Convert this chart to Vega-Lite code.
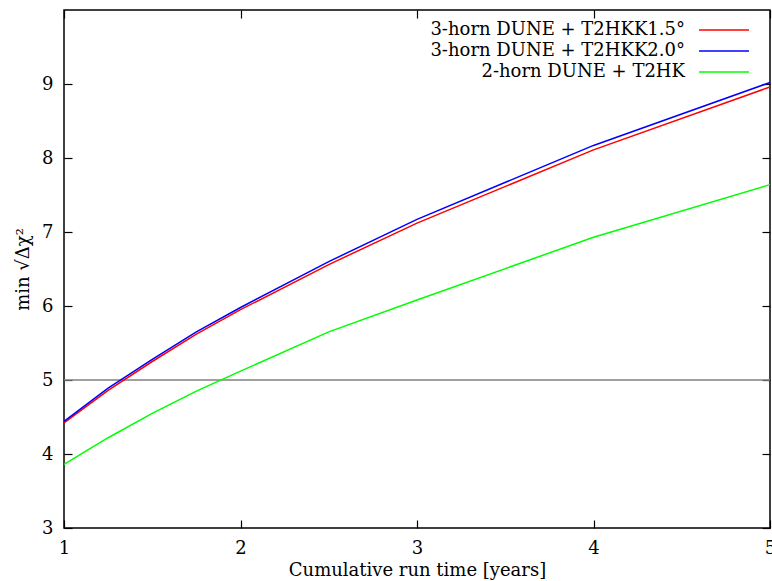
{
  "$schema": "https://vega.github.io/schema/vega-lite/v6.json",
  "width": 706,
  "height": 518,
  "autosize": "none",
  "padding": {"left": 64, "top": 10, "right": 2, "bottom": 53},
  "background": "white",
  "config": {
    "font": "DejaVu Serif",
    "view": {"stroke": "black", "strokeWidth": 1.5},
    "axis": {
      "grid": false,
      "domain": false,
      "tickColor": "black",
      "tickSize": -8,
      "tickWidth": 1.2,
      "labelFont": "DejaVu Serif",
      "labelFontSize": 18,
      "labelColor": "black",
      "titleFont": "DejaVu Serif",
      "titleFontSize": 18,
      "titleFontWeight": "normal",
      "titleColor": "black"
    },
    "legend": {
      "labelFont": "DejaVu Serif",
      "labelFontSize": 18,
      "labelColor": "black",
      "labelLimit": 500
    }
  },
  "resolve": {"axis": {"x": "independent", "y": "independent"}},
  "datasets": {
    "curves": [
      {"years": 1, "chi": 4.42, "setup": "3-horn DUNE + T2HKK1.5°"},
      {"years": 1.25, "chi": 4.86, "setup": "3-horn DUNE + T2HKK1.5°"},
      {"years": 1.5, "chi": 5.25, "setup": "3-horn DUNE + T2HKK1.5°"},
      {"years": 1.75, "chi": 5.62, "setup": "3-horn DUNE + T2HKK1.5°"},
      {"years": 2, "chi": 5.95, "setup": "3-horn DUNE + T2HKK1.5°"},
      {"years": 2.5, "chi": 6.56, "setup": "3-horn DUNE + T2HKK1.5°"},
      {"years": 3, "chi": 7.12, "setup": "3-horn DUNE + T2HKK1.5°"},
      {"years": 4, "chi": 8.11, "setup": "3-horn DUNE + T2HKK1.5°"},
      {"years": 5, "chi": 8.96, "setup": "3-horn DUNE + T2HKK1.5°"},
      {"years": 1, "chi": 4.44, "setup": "3-horn DUNE + T2HKK2.0°"},
      {"years": 1.25, "chi": 4.89, "setup": "3-horn DUNE + T2HKK2.0°"},
      {"years": 1.5, "chi": 5.28, "setup": "3-horn DUNE + T2HKK2.0°"},
      {"years": 1.75, "chi": 5.65, "setup": "3-horn DUNE + T2HKK2.0°"},
      {"years": 2, "chi": 5.98, "setup": "3-horn DUNE + T2HKK2.0°"},
      {"years": 2.5, "chi": 6.6, "setup": "3-horn DUNE + T2HKK2.0°"},
      {"years": 3, "chi": 7.17, "setup": "3-horn DUNE + T2HKK2.0°"},
      {"years": 4, "chi": 8.17, "setup": "3-horn DUNE + T2HKK2.0°"},
      {"years": 5, "chi": 9.02, "setup": "3-horn DUNE + T2HKK2.0°"},
      {"years": 1, "chi": 3.86, "setup": "2-horn DUNE + T2HK"},
      {"years": 1.25, "chi": 4.22, "setup": "2-horn DUNE + T2HK"},
      {"years": 1.5, "chi": 4.55, "setup": "2-horn DUNE + T2HK"},
      {"years": 1.75, "chi": 4.85, "setup": "2-horn DUNE + T2HK"},
      {"years": 2, "chi": 5.12, "setup": "2-horn DUNE + T2HK"},
      {"years": 2.5, "chi": 5.65, "setup": "2-horn DUNE + T2HK"},
      {"years": 3, "chi": 6.08, "setup": "2-horn DUNE + T2HK"},
      {"years": 4, "chi": 6.93, "setup": "2-horn DUNE + T2HK"},
      {"years": 5, "chi": 7.64, "setup": "2-horn DUNE + T2HK"}
    ],
    "ref": [{"level": 5}]
  },
  "layer": [
    {
      "data": {"name": "ref"},
      "mark": {"type": "rule", "color": "#808080", "strokeWidth": 1.5},
      "encoding": {
        "y": {"field": "level", "type": "quantitative", "scale": {"domain": [3, 10]}, "axis": null}
      }
    },
    {
      "data": {"name": "curves"},
      "mark": {"type": "line", "strokeWidth": 1.5},
      "encoding": {
        "x": {
          "field": "years", "type": "quantitative",
          "scale": {"domain": [1, 5], "nice": false},
          "axis": {"values": [1, 2, 3, 4, 5], "title": "Cumulative run time [years]", "labelPadding": 19, "titlePadding": 4, "labelFlush": false}
        },
        "y": {
          "field": "chi", "type": "quantitative",
          "scale": {"domain": [3, 10], "nice": false, "zero": false},
          "axis": {"values": [3, 4, 5, 6, 7, 8, 9], "title": "min √Δχ²", "labelPadding": 19, "titlePadding": 9}
        },
        "color": {
          "field": "setup", "type": "nominal",
          "scale": {
            "domain": ["3-horn DUNE + T2HKK1.5°", "3-horn DUNE + T2HKK2.0°", "2-horn DUNE + T2HK"],
            "range": ["#ff0000", "#0000ff", "#00ff00"]
          },
          "legend": {
            "title": null,
            "orient": "none",
            "legendX": 651,
            "legendY": 11,
            "symbolType": "M-5,0H5",
            "symbolSize": 100,
            "symbolStrokeWidth": 1.5,
            "labelAlign": "right",
            "labelOffset": -48,
            "rowPadding": 3
          }
        }
      }
    },
    {
      "data": {"name": "curves"},
      "mark": {"type": "point", "opacity": 0},
      "encoding": {
        "x": {"field": "years", "type": "quantitative", "axis": {"orient": "top", "values": [1, 2, 3, 4, 5], "labels": false, "title": null}},
        "y": {"field": "chi", "type": "quantitative", "axis": {"orient": "right", "values": [3, 4, 5, 6, 7, 8, 9], "labels": false, "title": null}}
      }
    }
  ]
}
